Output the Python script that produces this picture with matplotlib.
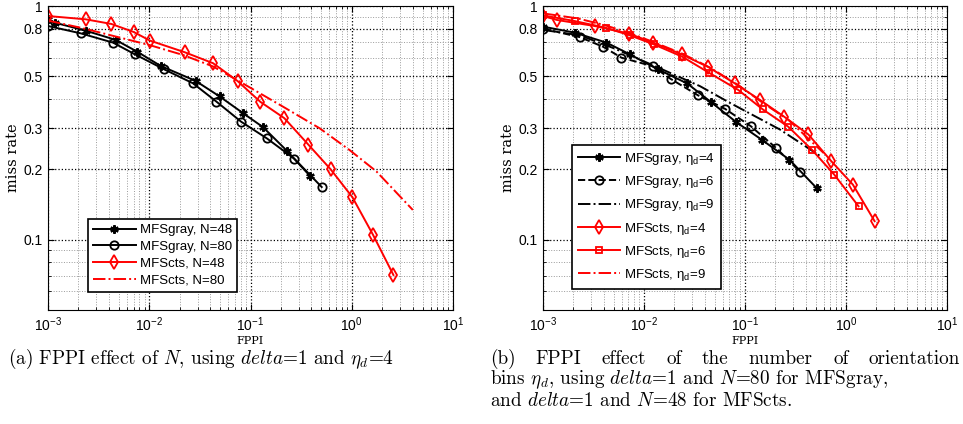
import numpy as np
import matplotlib.pyplot as plt
from matplotlib.ticker import LogLocator, NullFormatter, FixedLocator, FixedFormatter

# ---- (a) FPPI effect of N ----
gray48_x = [1e-3, 1.16e-3, 2.36e-3, 4.66e-3, 7.57e-3, 0.01297, 0.0287, 0.0496, 0.0843, 0.133, 0.229, 0.384]
gray48_y = [0.877, 0.849, 0.784, 0.716, 0.638, 0.554, 0.478, 0.410, 0.348, 0.303, 0.240, 0.188]

gray80_x = [1e-3, 2.10e-3, 4.39e-3, 7.18e-3, 0.01399, 0.0270, 0.0460, 0.0806, 0.1456, 0.271, 0.505]
gray80_y = [0.821, 0.764, 0.697, 0.622, 0.536, 0.467, 0.390, 0.320, 0.271, 0.222, 0.168]

cts48_x = [1e-3, 2.36e-3, 4.22e-3, 7.02e-3, 0.01017, 0.0224, 0.0427, 0.0747, 0.125, 0.216, 0.373, 0.619, 1.014, 1.62, 2.58]
cts48_y = [0.906, 0.877, 0.838, 0.774, 0.711, 0.634, 0.569, 0.477, 0.389, 0.331, 0.255, 0.200, 0.152, 0.105, 0.0706]

cts80_x = [1e-3, 2.22e-3, 4.73e-3, 0.01, 0.0216, 0.0427, 0.0781, 0.209, 0.48, 0.95, 1.75, 4.01]
cts80_y = [0.866, 0.803, 0.739, 0.681, 0.617, 0.551, 0.475, 0.371, 0.300, 0.242, 0.196, 0.134]

# ---- (b) FPPI effect of eta_d ----
g4_x = [1e-3, 2.06e-3, 4.25e-3, 7.24e-3, 0.01382, 0.0268, 0.0457, 0.0815, 0.146, 0.275, 0.514]
g4_y = [0.816, 0.769, 0.697, 0.621, 0.535, 0.466, 0.389, 0.319, 0.268, 0.220, 0.166]

g6_x = [1e-3, 2.31e-3, 3.94e-3, 5.98e-3, 0.01214, 0.0183, 0.0345, 0.0634, 0.114, 0.203, 0.351]
g6_y = [0.80, 0.736, 0.669, 0.601, 0.553, 0.488, 0.414, 0.363, 0.306, 0.247, 0.195]

g9_x = [1e-3, 2.3e-3, 5e-3, 0.012, 0.0358, 0.0709, 0.222, 0.555]
g9_y = [0.79, 0.75, 0.66, 0.56, 0.454, 0.385, 0.296, 0.228]

c4_x = [1e-3, 1.38e-3, 3.25e-3, 7.13e-3, 0.01233, 0.0236, 0.0433, 0.0796, 0.141, 0.244, 0.424, 0.713, 1.17, 1.92]
c4_y = [0.906, 0.871, 0.821, 0.761, 0.697, 0.621, 0.548, 0.466, 0.396, 0.336, 0.282, 0.217, 0.172, 0.120]

c6_x = [1e-3, 2.06e-3, 4.18e-3, 7.24e-3, 0.01252, 0.0239, 0.044, 0.0859, 0.150, 0.269, 0.458, 0.764, 1.33]
c6_y = [0.912, 0.862, 0.807, 0.749, 0.685, 0.607, 0.518, 0.437, 0.361, 0.304, 0.243, 0.190, 0.139]

c9_x = [1e-3, 2.2e-3, 4e-3, 7e-3, 0.0125, 0.024, 0.045, 0.085, 0.15, 0.27, 0.6]
c9_y = [0.93, 0.885, 0.83, 0.77, 0.70, 0.625, 0.545, 0.46, 0.385, 0.325, 0.235]

y_ticks = [0.1, 0.2, 0.3, 0.5, 0.8, 1]
y_labels = ['0.1', '0.2', '0.3', '0.5', '0.8', '1']

sans = 'Liberation Sans'
# math in the legends: plain sans like the MATLAB symbol font
plt.rcParams['mathtext.fontset'] = 'custom'
plt.rcParams['mathtext.rm'] = sans
plt.rcParams['mathtext.it'] = sans + ':italic'

W, H = 963, 424
fig = plt.figure(figsize=(W / 100, H / 100), dpi=100)
ax1 = fig.add_axes([48 / W, 1 - 310 / H, 405 / W, 304 / H])
ax2 = fig.add_axes([543 / W, 1 - 310 / H, 404 / W, 304 / H])


def style_axes(ax):
    ax.set_xscale('log')
    ax.set_yscale('log')
    ax.set_xlim(1e-3, 1e1)
    ax.set_ylim(0.05, 1)
    ax.yaxis.set_major_locator(FixedLocator(y_ticks))
    ax.yaxis.set_major_formatter(FixedFormatter(y_labels))
    ax.yaxis.set_minor_locator(LogLocator(base=10, subs=np.arange(1, 10)))
    ax.yaxis.set_minor_formatter(NullFormatter())
    ax.xaxis.set_minor_locator(LogLocator(base=10, subs=np.arange(2, 10)))
    ax.xaxis.set_minor_formatter(NullFormatter())
    ax.grid(True, which='major', color='black', linestyle=':', linewidth=0.9)
    ax.grid(True, which='minor', color='#9a9a9a', linestyle=':', linewidth=0.7)
    ax.tick_params(which='both', direction='in', top=True, right=True, labelsize=10, pad=4)
    ax.tick_params(which='major', length=4)
    ax.tick_params(which='minor', length=2)
    for lab in ax.get_xticklabels() + ax.get_yticklabels():
        lab.set_family(sans)
    for s in ax.spines.values():
        s.set_linewidth(0.8)
    ax.set_xlabel('FPPI', family='DejaVu Serif', fontsize=8)
    ax.xaxis.set_label_coords(0.5, -0.086)
    ax.set_ylabel('miss rate', family='DejaVu Serif', fontsize=10.5, labelpad=2)


lw = 1.4
ax1.plot(gray48_x, gray48_y, '-', color='black', lw=lw, marker=(6, 2, 0), ms=6, mew=1.6, label='MFSgray, N=48')
ax1.plot(gray80_x, gray80_y, '-', color='black', lw=lw, marker='o', ms=6, mfc='none', mew=1.3, label='MFSgray, N=80')
ax1.plot(cts48_x, cts48_y, '-', color='red', lw=lw, marker='d', ms=7, mfc='none', mew=1.3, label='MFScts, N=48')
ax1.plot(cts80_x, cts80_y, '-.', color='red', lw=lw, label='MFScts, N=80')

ax2.plot(g4_x, g4_y, '-', color='black', lw=lw, marker=(6, 2, 0), ms=6, mew=1.6, label=r'MFSgray, $\mathregular{\eta_d}$=4')
ax2.plot(g6_x, g6_y, '--', color='black', lw=lw, marker='o', ms=6, mfc='none', mew=1.3, label=r'MFSgray, $\mathregular{\eta_d}$=6')
ax2.plot(g9_x, g9_y, '-.', color='black', lw=lw, label=r'MFSgray, $\mathregular{\eta_d}$=9')
ax2.plot(c4_x, c4_y, '-', color='red', lw=lw, marker='d', ms=7, mfc='none', mew=1.3, label=r'MFScts, $\mathregular{\eta_d}$=4')
ax2.plot(c6_x, c6_y, '-', color='red', lw=lw, marker='s', ms=5, mfc='none', mew=1.3, label=r'MFScts, $\mathregular{\eta_d}$=6')
ax2.plot(c9_x, c9_y, '-.', color='red', lw=lw, label=r'MFScts, $\mathregular{\eta_d}$=9')

for ax in (ax1, ax2):
    style_axes(ax)

leg1 = ax1.legend(loc='lower left', bbox_to_anchor=(0.099, 0.059), fancybox=False, framealpha=1,
                  edgecolor='black', prop={'family': sans, 'size': 9.5}, handlelength=3.2,
                  borderpad=0.4, labelspacing=0.35, handletextpad=0.3, borderaxespad=0)
leg2 = ax2.legend(loc='lower left', bbox_to_anchor=(0.072, 0.069), fancybox=False, framealpha=1,
                  edgecolor='black', prop={'family': sans, 'size': 9.5}, handlelength=3.2,
                  borderpad=0.45, labelspacing=0.55, handletextpad=0.3, borderaxespad=0)
for leg in (leg1, leg2):
    leg.get_frame().set_linewidth(1.2)

# captions (LaTeX-like Computer Modern)
cap = dict(family='cmr10', fontsize=13.8, va='center', ha='left', math_fontfamily='cm')
fig.text(8 / W, 1 - 359 / H, r'(a) FPPI effect of $N$, using $delta$=1 and $\eta_d$=4', **cap)
fig.text(490 / W, 1 - 380 / H, r'bins $\eta_d$, using $delta$=1 and $N$=80 for MFSgray,', **cap)
fig.text(490 / W, 1 - 401 / H, r'and $delta$=1 and $N$=48 for MFScts.', **cap)

# first line of (b) is justified between x=490 and x=960
words = '(b) FPPI effect of the number of orientation'.split()
word_texts = [fig.text(0, 1 - 359 / H, w, **cap) for w in words]
fig.canvas.draw()
renderer = fig.canvas.get_renderer()
widths = [t.get_window_extent(renderer).width for t in word_texts]
gap = (960 - 490 - sum(widths)) / (len(words) - 1)
xpos = 490
for t, w in zip(word_texts, widths):
    t.set_x(xpos / W)
    xpos += w + gap

fig.savefig('out.png', dpi=100)
